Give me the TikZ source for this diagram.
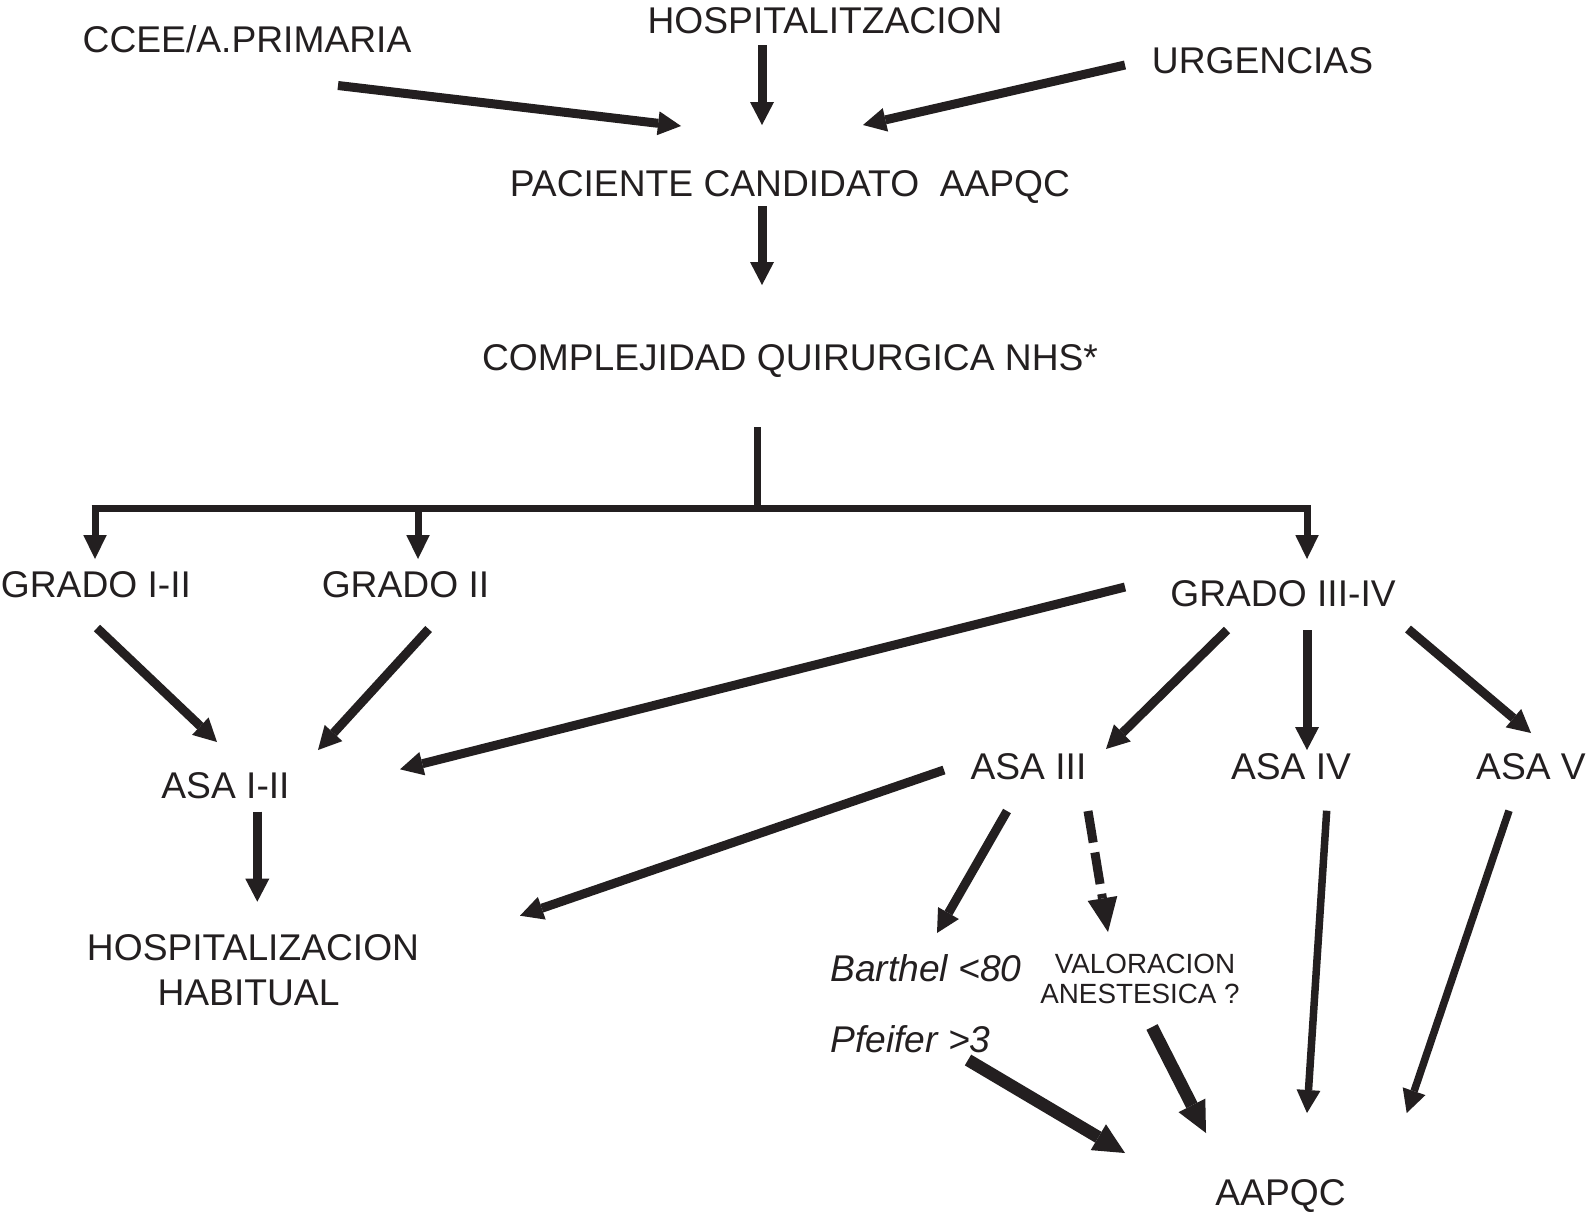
\documentclass[tikz,border=0pt]{standalone}
\usepackage{fontspec}
\setmainfont{Liberation Sans}
\usetikzlibrary{arrows.meta}
\definecolor{ink}{RGB}{35,31,32}
\tikzset{
  lbl/.style={inner sep=0pt, anchor=base, text=ink, font=\fontsize{37.2pt}{44pt}\selectfont},
  lblit/.style={inner sep=0pt, anchor=base west, text=ink, font=\fontsize{37.2pt}{44pt}\selectfont\itshape},
  small/.style={inner sep=0pt, anchor=base, text=ink, font=\fontsize{27.8pt}{31pt}\selectfont},
  arr/.style={draw=ink, line width=9pt, -{Triangle[length=23pt,width=24pt,line width=0pt]}},
  thinarr/.style={draw=ink, line width=7.5pt, -{Triangle[length=23pt,width=24pt,line width=0pt]}},
  heavyarr/.style={draw=ink, line width=12.5pt, -{Triangle[length=31pt,width=30pt,line width=0pt]}},
  treeline/.style={draw=ink, line width=7pt},
  treearr/.style={draw=ink, line width=7pt, -{Triangle[length=24pt,width=23.5pt,line width=0pt]}},
  dasharr/.style={draw=ink, line width=9pt, dash pattern=on 32pt off 10pt, -{Triangle[length=34pt,width=30pt,line width=0pt]}},
}
\begin{document}
\begin{tikzpicture}[x=1pt,y=-1pt]
\path[use as bounding box, fill=white] (0,0) rectangle (1595,1211);
% labels
\node[lbl] (ccee) at (247,52.8) {CCEE/A.PRIMARIA};
\node[lbl] (hosp) at (825,33.1) {HOSPITALITZACION};
\node[lbl] (urg) at (1262.5,73.3) {URGENCIAS};
\node[lbl] (pac) at (790,196.3) {PACIENTE CANDIDATO~~AAPQC};
\node[lbl] (comp) at (790,370.8) {COMPLEJIDAD QUIRURGICA NHS*};
\node[lbl] (g12) at (96,597.8) {GRADO I-II};
\node[lbl] (g2) at (405.5,597.8) {GRADO II};
\node[lbl] (g34) at (1283,606.3) {GRADO III-IV};
\node[lbl] (a12) at (225.5,798.3) {ASA I-II};
\node[lbl] (hh1) at (253,960) {HOSPITALIZACION};
\node[lbl] (hh2) at (248.5,1005.8) {HABITUAL};
\node[lbl] (a3) at (1028.5,779.3) {ASA III};
\node[lbl] (a4) at (1291,779.3) {ASA IV};
\node[lbl] (a5) at (1531,779.3) {ASA V};
\node[lblit] (barthel) at (830,981.3) {Barthel <80};
\node[lblit] (pfeifer) at (830,1052.3) {Pfeifer >3};
\node[small] (val1) at (1145,973) {VALORACION};
\node[small] (val2) at (1140,1003.5) {ANESTESICA ?};
\node[lbl] (aapqc) at (1280.5,1205.3) {AAPQC};
% tree junction
\coordinate (bar) at (757,508);
\coordinate (barL) at (95,508);
\coordinate (barM) at (418,508);
\coordinate (barR) at (1307,508);
% top arrows
\draw[arr] ([shift={(91,32.7)}]ccee.base) -- ([shift={(-109,-70.3)}]pac.base);
\draw[arr] ([shift={(-63,11.9)}]hosp.base) -- ([shift={(-28,-71.3)}]pac.base);
\draw[arr] ([shift={(-137.5,-8.3)}]urg.base) -- ([shift={(73,-71.3)}]pac.base);
\draw[arr] ([shift={(-28,9.7)}]pac.base) -- ([shift={(-28,-85.8)}]comp.base);
% tree
\draw[treeline] ([shift={(-33,56.2)}]comp.base) -- ([yshift=-3.5pt]bar);
\draw[treeline] ([xshift=-3.5pt]barL) -- ([xshift=3.5pt]barR);
\draw[treearr] ([yshift=-3.5pt]barL) -- ([shift={(-1,-38.8)}]g12.base);
\draw[treearr] ([yshift=-3.5pt]barM) -- ([shift={(12.5,-38.8)}]g2.base);
\draw[treearr] ([yshift=-3.5pt]barR) -- ([shift={(24,-47.3)}]g34.base);
% to ASA I-II
\draw[arr] ([shift={(1,30.2)}]g12.base) -- ([shift={(-8.5,-56.3)}]a12.base);
\draw[arr] ([shift={(23.1,31.2)}]g2.base) -- ([shift={(92.5,-48.3)}]a12.base);
\draw[arr] ([shift={(-158,-19.3)}]g34.base) -- ([shift={(174.5,-29)}]a12.base);
% from GRADO III-IV
\draw[arr] ([shift={(-56,23.7)}]g34.base) -- ([shift={(77.5,-30.3)}]a3.base);
\draw[arr] ([shift={(24,23.7)}]g34.base) -- ([shift={(16,-29.3)}]a4.base);
\draw[arr] ([shift={(125,22.7)}]g34.base) -- ([shift={(0,-46.3)}]a5.base);
% to HOSPITALIZACION HABITUAL
\draw[arr] ([shift={(31.8,13.4)}]a12.base) -- ([shift={(4.3,-58.3)}]hh1.base);
\draw[arr] ([shift={(-84.5,-9.3)}]a3.base) -- ([shift={(267,-44.3)}]hh1.base);
% from ASA III
\draw[arr] ([shift={(-21.5,31.7)}]a3.base) -- ([shift={(107,-48.3)}]barthel.base west);
\draw[dasharr] ([shift={(59.5,31.7)}]a3.base) -- ([shift={(-37,-41)}]val1.base);
% to AAPQC
\draw[heavyarr] ([shift={(138,7.7)}]pfeifer.base west) -- ([shift={(-155.5,-52.3)}]aapqc.base);
\draw[heavyarr] ([shift={(12,23.5)}]val2.base) -- ([shift={(-74.5,-72.3)}]aapqc.base);
\draw[thinarr] ([shift={(35.7,31.4)}]a4.base) -- ([shift={(26.5,-92.3)}]aapqc.base);
\draw[thinarr] ([shift={(-22,31.4)}]a5.base) -- ([shift={(126.2,-92.3)}]aapqc.base);
\end{tikzpicture}
\end{document}
